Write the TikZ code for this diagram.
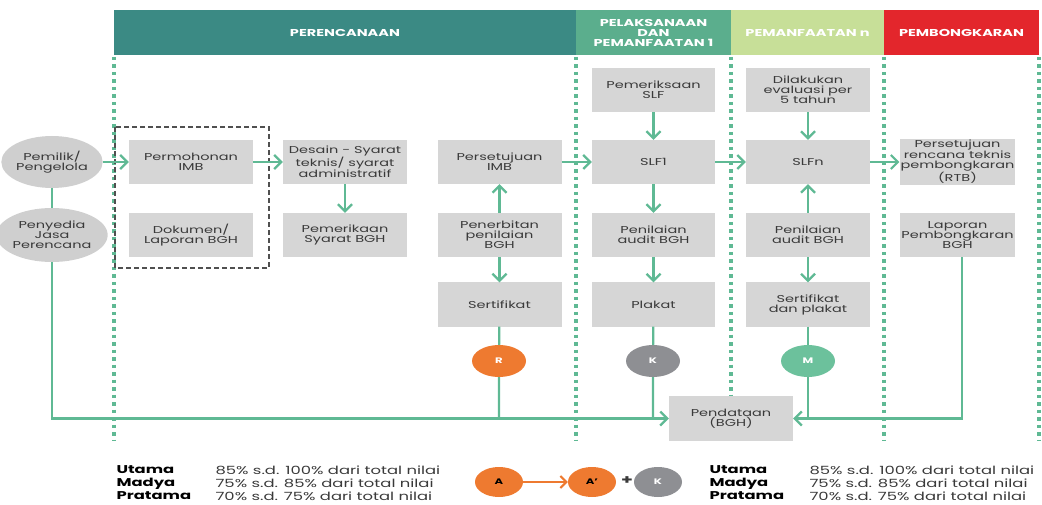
\documentclass[tikz,border=0pt]{standalone}
\usepackage{fontspec}
\setmainfont{Poppins}[FakeStretch=1.45]
\usetikzlibrary{arrows.meta,shapes.geometric}

\definecolor{tealhead}{HTML}{3B8A84}
\definecolor{greenhead}{HTML}{5BAE8D}
\definecolor{lighthead}{HTML}{C7DF98}
\definecolor{redhead}{HTML}{E3262C}
\definecolor{flowgreen}{HTML}{5FB994}
\definecolor{boxgray}{HTML}{D6D6D6}
\definecolor{ovalgray}{HTML}{CFCFCF}
\definecolor{textgray}{HTML}{3A3A3A}
\definecolor{dashgray}{HTML}{505050}
\definecolor{badgeorange}{HTML}{EE7A30}
\definecolor{badgegray}{HTML}{8E8F93}
\definecolor{badgegreen}{HTML}{6CC19C}

\newcommand\boxfont{\fontsize{10}{10}\selectfont}
\newcommand\headfont{\fontsize{10}{10}\selectfont\bfseries}
\newcommand\legfont{\fontsize{11.3}{13}\selectfont}

\begin{document}
\begin{tikzpicture}[x=1pt,y=-1pt,
    box/.style={fill=boxgray, minimum width=124pt, minimum height=44pt, inner sep=1pt, align=center, text=textgray, font=\boxfont},
    oval/.style={ellipse, fill=ovalgray, minimum width=89pt, minimum height=52pt, inner sep=0pt, align=center, text=textgray, font=\boxfont},
    badge/.style={ellipse, minimum width=54pt, minimum height=32pt, inner sep=0pt, text=white, font=\fontsize{8}{8}\selectfont\bfseries},
    head/.style={minimum height=45pt, inner sep=0pt, align=center, text=white, font=\headfont},
    flow/.style={draw=flowgreen, line width=2.2pt},
    arr/.style={flow, -{Straight Barb[length=7pt,width=14pt]}},
    sep/.style={draw=flowgreen, line width=3.5pt, dash pattern=on 3.5pt off 4pt}
  ]
    \useasboundingbox (0,0) rectangle (1042,505);

    % Phase headers
    \node[head, fill=tealhead, minimum width=462pt] (hplan) at (345,32.5) {PERENCANAAN};
    \node[head, fill=greenhead, minimum width=155pt] (hbuild) at (653.5,32.5) {PELAKSANAAN\\DAN\\PEMANFAATAN 1};
    \node[head, fill=lighthead, minimum width=153pt] (huse) at (807.5,32.5) {PEMANFAATAN n};
    \node[head, fill=redhead, minimum width=155pt] (hdemo) at (961.5,32.5) {PEMBONGKARAN};

    % Dotted phase separators
    \foreach \x in {114,576,731,884,1039}
        \draw[sep] (\x,57) -- (\x,440);

    % Dashed group round the submission
    \draw[dashgray, line width=1.8pt, dash pattern=on 5pt off 3pt] (115,127) rectangle (269,268);

    % Actors
    \node[oval] (pemilik) at (52,162) {Pemilik/\\Pengelola};
    \node[oval, minimum height=54pt] (penyedia) at (52,235) {Penyedia\\Jasa\\Perencana};

    % Perencanaan
    \node[box] (permohonan) at (191,162) {Permohonan\\IMB};
    \node[box] (dokumen) at (191,235) {Dokumen/\\Laporan BGH};
    \node[box] (desain) at (345,162) {Desain - Syarat\\teknis/ syarat\\administratif};
    \node[box] (periksabgh) at (345,235) {Pemerikaan\\Syarat BGH};
    \node[box] (imb) at (499.5,162) {Persetujuan\\IMB};
    \node[box] (penerbitan) at (499.5,235) {Penerbitan\\penilaian\\BGH};
    \node[box] (sertifikat) at (499.5,304.5) {Sertifikat};
    \node[badge, fill=badgeorange] (R) at (499,361) {R};

    % Pelaksanaan dan pemanfaatan 1
    \node[box, minimum width=123pt] (periksaslf) at (653.5,90) {Pemeriksaan\\SLF};
    \node[box, minimum width=123pt] (slfone) at (653.5,162) {SLF1};
    \node[box, minimum width=123pt] (auditone) at (653.5,235) {Penilaian\\audit BGH};
    \node[box, minimum width=123pt] (plakat) at (653.5,304.5) {Plakat};
    \node[badge, fill=badgegray] (K) at (653,361) {K};

    % Pemanfaatan n
    \node[box] (evaluasi) at (808,90) {Dilakukan\\evaluasi per\\5 tahun};
    \node[box] (slfn) at (808,162) {SLFn};
    \node[box] (audittwo) at (808,235) {Penilaian\\audit BGH};
    \node[box] (sertplakat) at (808,304.5) {Sertifikat\\dan plakat};
    \node[badge, fill=badgegreen] (M) at (808,361) {M};

    % Pembongkaran
    \node[box, minimum width=115pt] (rtb) at (957.5,162) {Persetujuan\\rencana teknis\\pembongkaran\\(RTB)};
    \node[box, minimum width=115pt] (laporan) at (957.5,235) {Laporan\\Pembongkaran\\BGH};

    \node[box, minimum height=45pt] (pendataan) at (731,418.5) {Pendataan\\(BGH)};

    % Flow
    \draw[flow] (pemilik) -- (penyedia);
    \draw[arr] (pemilik) -- (permohonan);
    \draw[arr] (permohonan) -- (desain);
    \draw[arr] (desain) -- (periksabgh);
    \draw[arr] (penerbitan) -- (imb);
    \draw[arr] (penerbitan) -- (sertifikat);
    \draw[arr] (imb) -- (slfone);
    \draw[arr] (periksaslf) -- (slfone);
    \draw[arr] (slfone) -- (auditone);
    \draw[arr] (auditone) -- (plakat);
    \draw[arr] (slfone) -- (slfn);
    \draw[arr] (evaluasi) -- (slfn);
    \draw[arr] (audittwo) -- (slfn);
    \draw[arr] (audittwo) -- (sertplakat);
    \draw[arr] (slfn) -- (rtb);

    % Into the database
    \draw[arr] (penyedia) |- (pendataan);
    \draw[flow] (sertifikat) -- (R) -- (R |- pendataan.west);
    \draw[flow] (plakat) -- (K) -- (K |- pendataan.west);
    \draw[arr] ([xshift=4.5pt]laporan.south) |- (pendataan);
    \draw[flow] (sertplakat) -- (M) -- (M |- pendataan.east);

    % Legend
    \node[anchor=west, align=left, font=\legfont\bfseries, text=black] (lvlleft) at (113,483) {Utama\\Madya\\Pratama};
    \node[anchor=west, align=left, font=\legfont, text=textgray] (pctleft) at (212,483) {85\% s.d. 100\% dari total nilai\\75\% s.d. 85\% dari total nilai\\70\% s.d. 75\% dari total nilai};
    \node[badge, fill=badgeorange, minimum width=48pt, minimum height=30pt, text=black] (A) at (499,482) {A};
    \node[badge, fill=badgeorange, minimum width=48pt, minimum height=30pt, text=black] (Aprime) at (592,482) {A’};
    \node[font=\fontsize{13}{13}\selectfont\bfseries, text=textgray, inner sep=0pt] (plus) at (627,481) {+};
    \node[badge, fill=badgegray, minimum width=48pt, minimum height=30pt] (Klegend) at (658,482) {K};
    \draw[badgeorange, line width=2pt, -{Straight Barb[length=6pt,width=12pt]}] (A) -- (Aprime);
    \node[anchor=west, align=left, font=\legfont\bfseries, text=black] (lvlright) at (706,483) {Utama\\Madya\\Pratama};
    \node[anchor=west, align=left, font=\legfont, text=textgray] (pctright) at (806,483) {85\% s.d. 100\% dari total nilai\\75\% s.d. 85\% dari total nilai\\70\% s.d. 75\% dari total nilai};
\end{tikzpicture}
\end{document}
